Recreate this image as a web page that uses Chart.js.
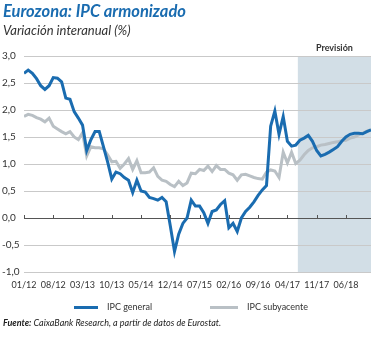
<!DOCTYPE html>
<html>
<head>
<meta charset="utf-8">
<script src="https://cdn.jsdelivr.net/npm/chart.js@4.4.1/dist/chart.umd.min.js"></script>
<style>
  html, body { margin: 0; padding: 0; background: #fff; }
  #wrap { position: relative; width: 380px; height: 338px; overflow: hidden; font-family: 'Lato', 'Noto Sans', sans-serif; }
  #chart { position: absolute; left: 0; top: 0; }
  .title { position: absolute; left: 3px; top: 1px; font-size: 16.5px; font-weight: bold; font-style: italic; color: #1a6cb0; }
  .subtitle { position: absolute; left: 3px; top: 22px; font-size: 13px; font-style: italic; color: #333; }
  .source { position: absolute; left: 3px; top: 317px; font-size: 9px; font-style: italic; color: #222; }
  .source b { font-weight: bold; }
  .leg { position: absolute; top: 301px; font-size: 9px; color: #333; line-height: 11px; }
  .leg i { position: absolute; top: 5px; height: 3px; }
</style>
</head>
<body>
<div id="wrap">
  <canvas id="chart" width="380" height="338"></canvas>
  <div class="title">Eurozona: IPC armonizado</div>
  <div class="subtitle">Variación interanual (%)</div>
  <div id="legend"></div>
  <div class="source"><b>Fuente:</b> CaixaBank Research, a partir de datos de Eurostat.</div>
</div>
<script>
/* ── datos ─────────────────────────────────────────────── */
// meses 01/12 .. 12/18 (índice 0..83)
const tickLabels = ['01/12','08/12','03/13','10/13','05/14','12/14','07/15','02/16','09/16','04/17','11/17','06/18'];
const forecastStart = 65.5;

const ipcGeneral = [
  2.68, 2.74, 2.68, 2.58, 2.45, 2.38, 2.45, 2.60, 2.59, 2.52, 2.22, 2.20,
  1.97, 1.85, 1.72, 1.25, 1.45, 1.60, 1.60, 1.32, 1.04, 0.72, 0.85, 0.82,
  0.75, 0.70, 0.47, 0.70, 0.50, 0.48, 0.38, 0.36, 0.33, 0.38, 0.30, -0.15,
  -0.62, -0.30, -0.10, 0.00, 0.33, 0.22, 0.22, 0.10, -0.10, 0.12, 0.15, 0.25,
  0.32, -0.18, -0.10, -0.25, 0.00, 0.12, 0.20, 0.30, 0.42, 0.52, 0.60, 1.70,
  1.98, 1.55, 1.88, 1.42, 1.33, 1.35, 1.44, 1.48, 1.53, 1.42, 1.25, 1.15,
  1.18, 1.22, 1.27, 1.32, 1.42, 1.50, 1.55, 1.57, 1.57, 1.56, 1.60, 1.63
];

const ipcSubyacente = [
  1.88, 1.92, 1.90, 1.86, 1.83, 1.78, 1.85, 1.70, 1.65, 1.60, 1.56, 1.60,
  1.50, 1.45, 1.58, 1.15, 1.32, 1.30, 1.30, 1.28, 1.17, 1.04, 1.05, 0.92,
  1.00, 1.10, 0.90, 1.06, 0.84, 0.84, 0.85, 0.93, 0.77, 0.70, 0.68, 0.62,
  0.58, 0.68, 0.60, 0.65, 0.83, 0.82, 0.90, 0.88, 0.96, 0.86, 0.97, 0.90,
  0.90, 0.83, 0.80, 0.70, 0.80, 0.81, 0.78, 0.75, 0.73, 0.72, 0.85, 0.89,
  0.87, 0.75, 1.22, 1.02, 1.22, 1.01, 1.07, 1.17, 1.25, 1.30, 1.32, 1.35,
  1.36, 1.38, 1.40, 1.41, 1.43, 1.44, 1.48, 1.50, 1.54, 1.57, 1.61, 1.63
];

const COLORS = {
  general: '#1a6cb0',
  sub:     '#b9c0c5',
  shade:   '#d2dee6',
  grid:    '#c9c9c9',
  zero:    '#555555',
  text:    '#333333',
};
const FONT = 'Lato, "Noto Sans", sans-serif';

const toPts = arr => arr.map((v, i) => ({ x: i, y: v }));

/* ── leyenda en HTML ───────────────────────────────────── */
const legendItems = [
  { label: 'IPC general',    color: COLORS.general, line: 74,  text: 107 },
  { label: 'IPC subyacente', color: COLORS.sub,     line: 210, text: 247 },
];
document.getElementById('legend').innerHTML = legendItems.map(it =>
  `<div class="leg" style="left:${it.line}px;width:${it.text - it.line + 80}px">` +
  `<i style="left:0;width:${it.text - it.line - 9}px;background:${it.color}"></i>` +
  `<span style="position:absolute;left:${it.text - it.line}px;white-space:nowrap">${it.label}</span></div>`
).join('');

/* ── plugin: zona de previsión + marcas en el eje 0 ────── */
const extras = {
  id: 'extras',
  beforeDraw(chart) {
    const { ctx, chartArea, scales } = chart;
    const x0 = scales.x.getPixelForValue(forecastStart);
    ctx.save();
    ctx.fillStyle = COLORS.shade;
    ctx.fillRect(x0, chartArea.top, chartArea.right - x0, chartArea.bottom - chartArea.top);
    ctx.restore();
  },
  afterDraw(chart) {
    const { ctx, chartArea, scales } = chart;
    const x0 = scales.x.getPixelForValue(forecastStart);
    ctx.save();
    ctx.fillStyle = '#333';
    ctx.font = 'bold 9px ' + FONT;
    ctx.textAlign = 'center';
    ctx.fillText('Previsión', (x0 + chartArea.right) / 2, chartArea.top - 5);
    // marcas del eje x sobre la línea de 0
    const y0 = scales.y.getPixelForValue(0);
    ctx.strokeStyle = COLORS.zero;
    ctx.lineWidth = 1;
    for (let i = 0; i < tickLabels.length; i++) {
      const x = Math.round(scales.x.getPixelForValue(i * 7)) + 0.5;
      ctx.beginPath();
      ctx.moveTo(x, y0 - 3);
      ctx.lineTo(x, y0 + 1);
      ctx.stroke();
    }
    ctx.restore();
  }
};

new Chart(document.getElementById('chart'), {
  type: 'line',
  data: {
    datasets: [
      {
        label: 'IPC general',
        data: toPts(ipcGeneral),
        borderColor: COLORS.general,
        borderWidth: 3,
        pointRadius: 0,
        tension: 0,
      },
      {
        label: 'IPC subyacente',
        data: toPts(ipcSubyacente),
        borderColor: COLORS.sub,
        borderWidth: 3,
        pointRadius: 0,
        tension: 0,
      },
    ],
  },
  options: {
    responsive: false,
    animation: false,
    layout: { padding: { top: 56, left: 2, right: 9, bottom: 46 } },
    plugins: {
      legend: { display: false },
      tooltip: { enabled: false },
    },
    scales: {
      x: {
        type: 'linear',
        min: 0,
        max: 83,
        grid: { display: false },
        border: { display: false },
        afterFit: s => { s.height = 20; },
        ticks: {
          stepSize: 7,
          autoSkip: false,
          maxRotation: 0,
          color: COLORS.text,
          font: { family: FONT, size: 9 },
          padding: 0,
          callback: v => tickLabels[v / 7] ?? '',
        },
      },
      y: {
        min: -1,
        max: 3,
        afterFit: s => { s.width = 22; },
        grid: {
          color: ctx => ctx.tick.value === 0 ? COLORS.zero : COLORS.grid,
          drawTicks: false,
        },
        border: { display: false },
        ticks: {
          stepSize: 0.5,
          crossAlign: 'far',
          padding: 4,
          color: COLORS.text,
          font: { family: FONT, size: 10 },
          callback: v => v.toFixed(1).replace('.', ','),
        },
      },
    },
  },
  plugins: [extras],
});
</script>
</body>
</html>
